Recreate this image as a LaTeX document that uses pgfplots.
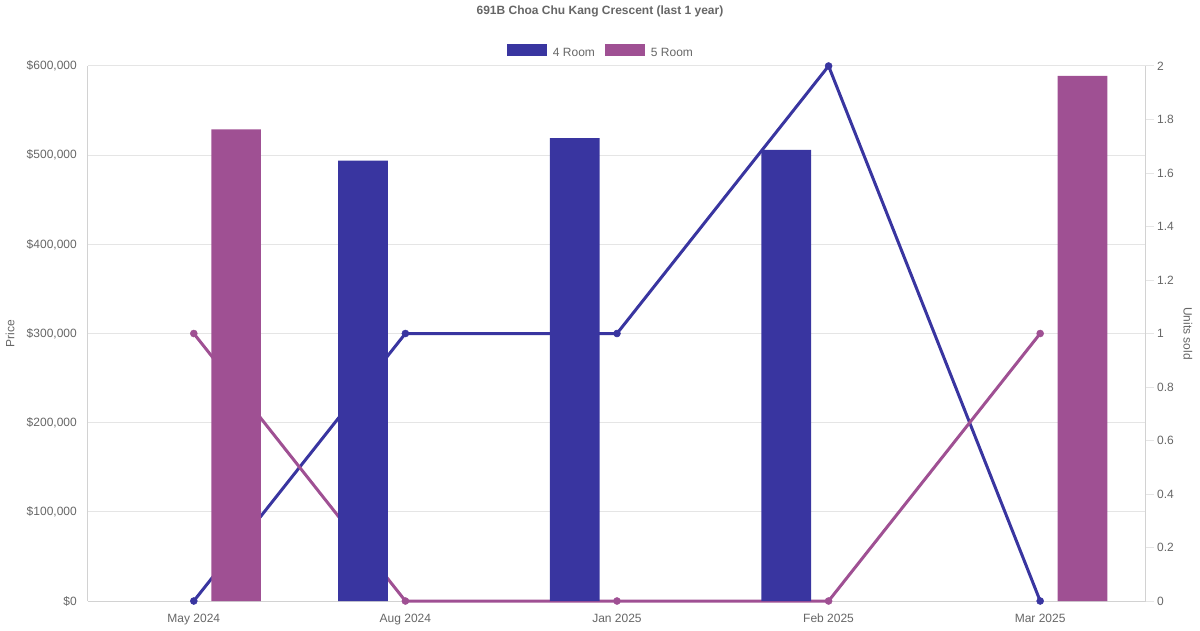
\documentclass[border=0pt]{standalone}
\usepackage{pgfplots}
\pgfplotsset{compat=1.18}
\usepackage{fontspec}
\setmainfont{Liberation Sans}
\definecolor{four}{HTML}{3935A0}
\definecolor{five}{HTML}{9F5093}
\definecolor{txt}{HTML}{666666}
\definecolor{grd}{HTML}{E5E5E5}
\definecolor{brd}{HTML}{D2D2D2}
\begin{document}
\begin{tikzpicture}[x=1pt,y=1pt,font=\fontsize{12}{14}\selectfont]
\useasboundingbox (-88,-29) rectangle (1112,601);
% --- price axis: grid, left labels, categories, title
\begin{axis}[
  scale only axis, width=1058pt, height=535pt,
  xmin=-0.5, xmax=4.5, ymin=0, ymax=600000,
  axis x line*=bottom, axis y line*=left,
  axis line style={draw=brd, line width=1pt, -},
  xtick={0,1,2,3,4},
  xticklabels={May 2024,Aug 2024,Jan 2025,Feb 2025,Mar 2025},
  ytick={0,100000,200000,300000,400000,500000,600000},
  yticklabels={{\$0},{\$100,000},{\$200,000},{\$300,000},{\$400,000},{\$500,000},{\$600,000}},
  scaled y ticks=false,
  major tick length=0pt,
  ymajorgrids, grid style={draw=grd, line width=1pt},
  tick label style={text=txt},
  xticklabel style={anchor=north, inner sep=0pt, yshift=-13pt},
  yticklabel style={anchor=east, inner sep=0pt, xshift=-11pt},
  ylabel={Price},
  ylabel style={at={(axis description cs:-0.0737,0.5)}, anchor=center, text=txt},
  title={691B Choa Chu Kang Crescent (last 1 year)},
  title style={at={(axis description cs:0.4839,1.0916)}, anchor=center,
    font=\fontsize{12}{14}\selectfont\bfseries, text=txt},
]
\end{axis}
% --- units axis: lines (drawn behind the bars)
\begin{axis}[
  scale only axis, width=1058pt, height=535pt,
  xmin=-0.5, xmax=4.5, ymin=0, ymax=2,
  axis x line=none, axis y line*=right,
  axis line style={draw=brd, line width=1pt, -},
  ytick={0,0.2,0.4,0.6,0.8,1,1.2,1.4,1.6,1.8,2},
  yticklabels={0,0.2,0.4,0.6,0.8,1,1.2,1.4,1.6,1.8,2},
  tick align=outside, major tick length=8pt,
  tick style={draw=grd, line width=1pt},
  yticklabel style={anchor=west, inner sep=0pt, xshift=3pt, text=txt},
  ylabel={Units sold},
  ylabel style={at={(axis description cs:1.0397,0.5)}, anchor=center, rotate=180, text=txt},
  clip=false,
]
\addplot[four, line width=3pt, mark=*, mark size=3.5pt, mark options={line width=0.5pt}]
  coordinates {(0,0) (1,1) (2,1) (3,2) (4,0)};
\addplot[five, line width=3pt, mark=*, mark size=3.5pt, mark options={line width=0.5pt}]
  coordinates {(0,1) (1,0) (2,0) (3,0) (4,1)};
\end{axis}
% --- price axis: bars and legend
\begin{axis}[
  scale only axis, width=1058pt, height=535pt,
  xmin=-0.5, xmax=4.5, ymin=0, ymax=600000,
  hide axis, ybar, bar width=0.235,
  legend style={at={(axis description cs:0.4839,1.0280)}, anchor=center,
    draw=none, fill=none, text=txt, legend columns=2,
    nodes={inner sep=0pt},
    /tikz/every odd column/.append style={column sep=6pt},
    /tikz/every even column/.append style={column sep=10pt}},
]
\addplot[fill=four, draw=none, bar shift=-0.2,
  legend image code/.code={\fill[four] (0pt,-2pt) rectangle (40pt,10pt);}]
  coordinates {(1,494000) (2,519000) (3,506000)};
\addplot[fill=five, draw=none, bar shift=0.2,
  legend image code/.code={\fill[five] (0pt,-2pt) rectangle (40pt,10pt);}]
  coordinates {(0,529000) (4,589000)};
\legend{4 Room, 5 Room}
\end{axis}
\end{tikzpicture}
\end{document}
